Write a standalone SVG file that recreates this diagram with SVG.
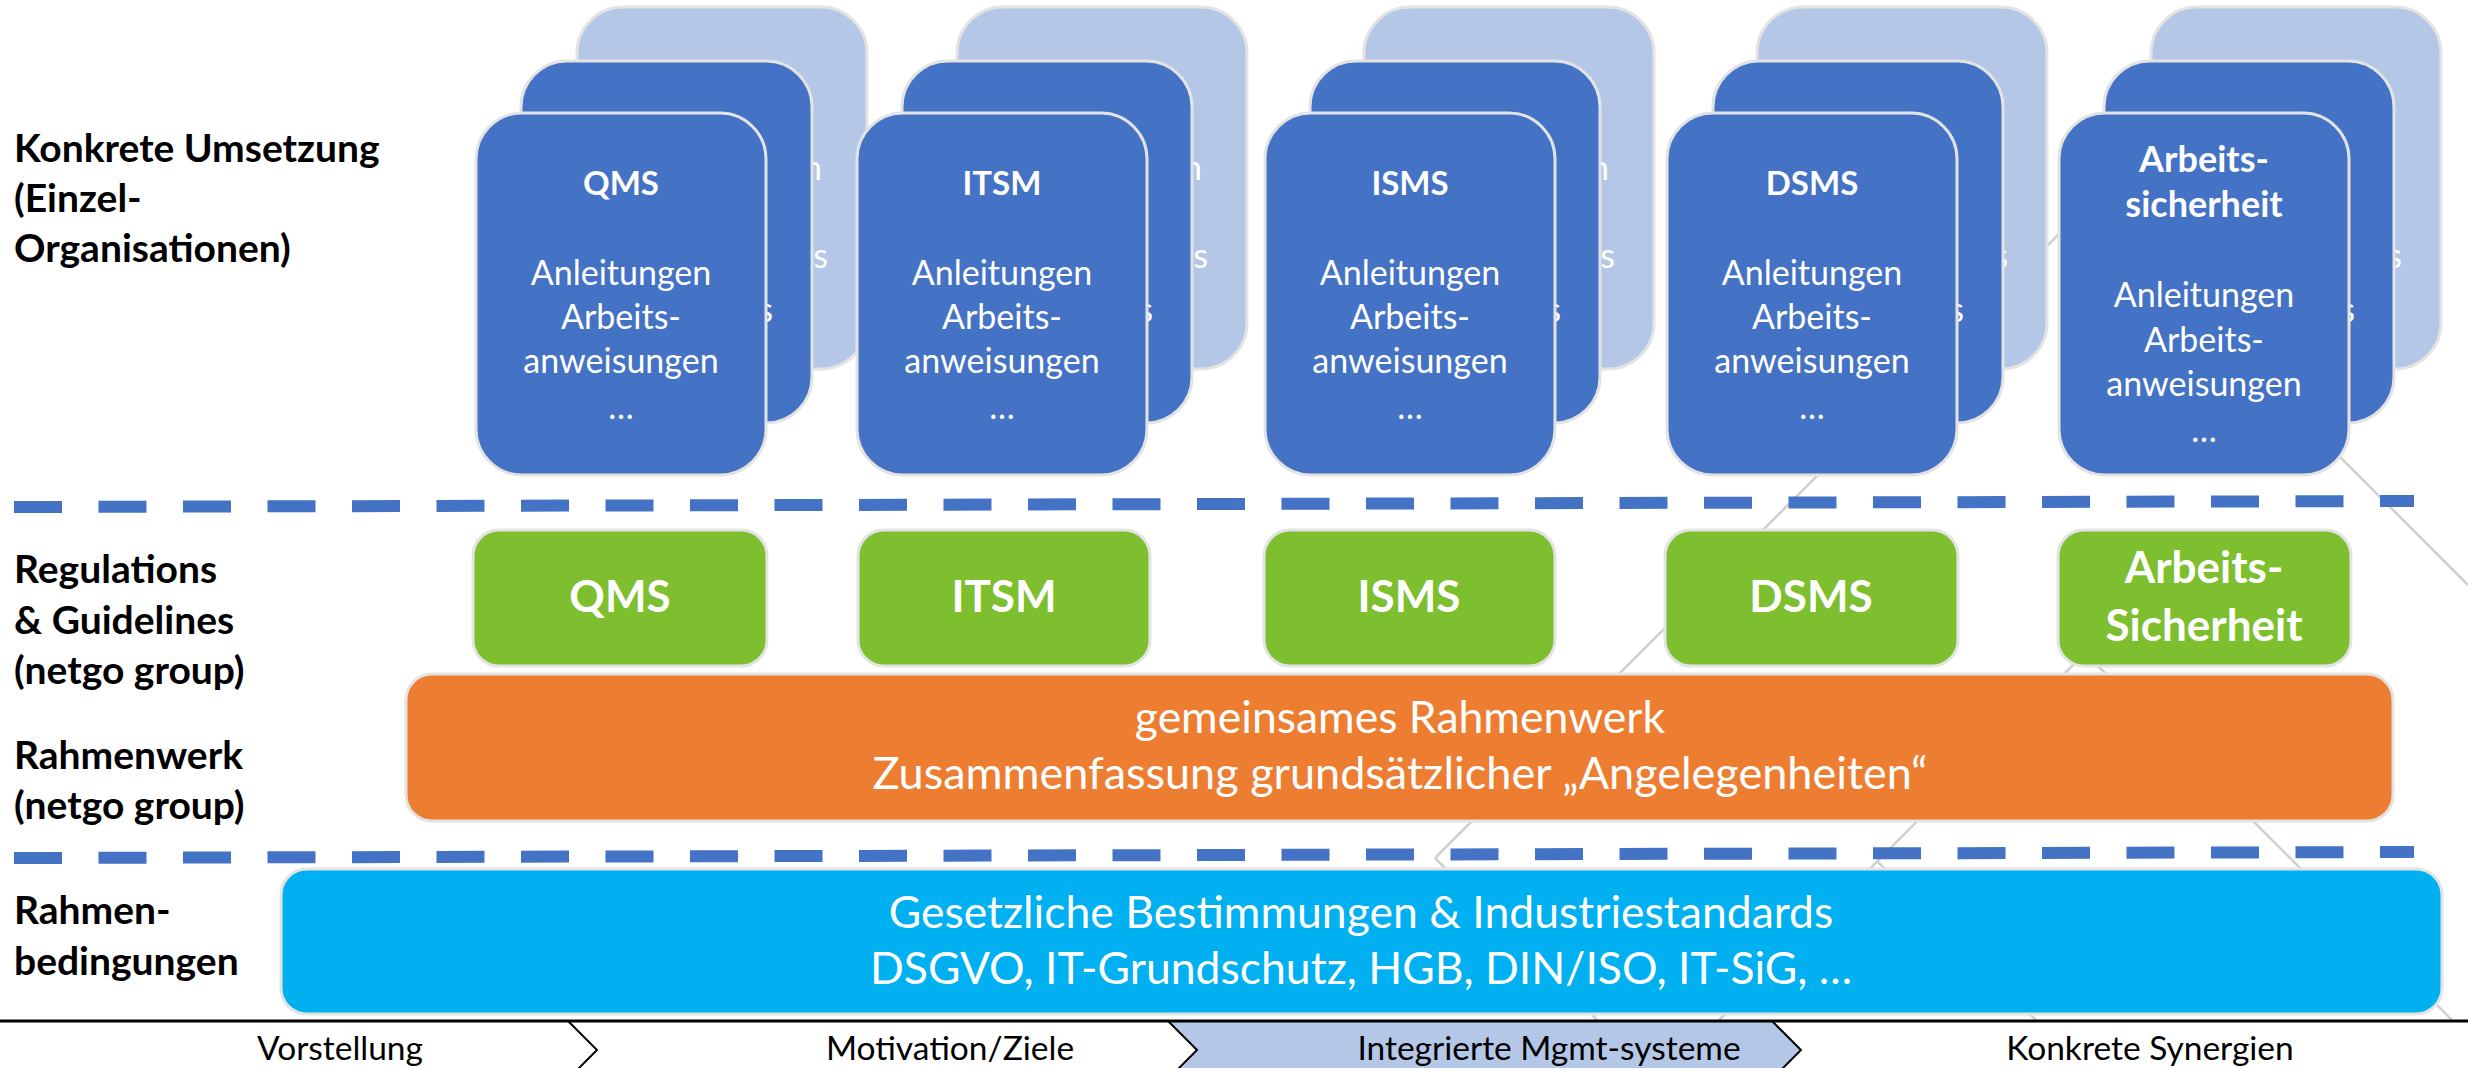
<svg xmlns="http://www.w3.org/2000/svg" width="2468" height="1068" viewBox="0 0 2468 1068">
<style>
  .bg { fill: #ffffff; }
  .deco { stroke: #cfcfcf; stroke-width: 2.5; fill: none; }
  .sep { stroke: #4472C4; stroke-width: 12; stroke-dasharray: 48 36.5; fill: none; }
  .back { fill: #B4C7E7; stroke: #e3e3e3; stroke-width: 3; }
  .card { fill: #4472C4; stroke: #e3e3e3; stroke-width: 3; }
  .green { fill: #7DBF2E; stroke: #e3e3e3; stroke-width: 3; }
  .orange { fill: #ED7D31; stroke: #e3e3e3; stroke-width: 3; }
  .cyan { fill: #00B0F0; stroke: #e3e3e3; stroke-width: 3; }
  text { font-family: Lato, "Liberation Sans", sans-serif; }
  .ct { fill: #ffffff; font-size: 33px; font-weight: bold; text-anchor: middle; }
  .ct2 { fill: #ffffff; font-size: 36px; font-weight: bold; text-anchor: middle; }
  .cb { fill: #ffffff; font-size: 34px; text-anchor: middle; }
  .frag { fill: #ffffff; font-size: 34px; text-anchor: end; }
  .lbl { fill: #000000; font-size: 39px; font-weight: bold; }
  .gt { fill: #ffffff; font-size: 44px; font-weight: bold; text-anchor: middle; }
  .bt { fill: #ffffff; font-size: 44.5px; text-anchor: middle; }
  .nav { fill: #000000; font-size: 33.5px; text-anchor: middle; }
  .navline { stroke: #000000; stroke-width: 2; fill: none; }
</style>
<rect class="bg" x="0" y="0" width="2468" height="1068"/>

<g id="background-lines">
  <line class="deco" x1="2088" y1="205" x2="1435" y2="858"/>
  <line class="deco" x1="1435" y1="858" x2="1597" y2="1020"/>
  <line class="deco" x1="2088" y1="205" x2="2468" y2="585"/>
  <line class="deco" x1="2085" y1="653" x2="1719" y2="1020"/>
  <line class="deco" x1="2085" y1="653" x2="2452" y2="1020"/>
  <line class="deco" x1="1878" y1="862" x2="2036" y2="1020"/>
</g>

<g id="separators">
  <line class="sep" x1="14" y1="507" x2="2414" y2="501"/>
  <line class="sep" x1="14" y1="858" x2="2414" y2="852"/>
</g>

<g id="labels">
  <text class="lbl" x="14" y="162">Konkrete Umsetzung</text>
  <text class="lbl" x="14" y="212">(Einzel-</text>
  <text class="lbl" x="14" y="262">Organisationen)</text>
  <text class="lbl" x="14" y="583">Regulations</text>
  <text class="lbl" x="14" y="634">&amp; Guidelines</text>
  <text class="lbl" x="14" y="684">(netgo group)</text>
  <text class="lbl" x="14" y="769">Rahmenwerk</text>
  <text class="lbl" x="14" y="819">(netgo group)</text>
  <text class="lbl" x="14" y="924">Rahmen-</text>
  <text class="lbl" x="14" y="975">bedingungen</text>
</g>

<g id="card-qms">
  <rect class="back" x="577" y="7" width="290" height="362" rx="46"/>
  <text class="frag" x="822" y="180">n</text>
  <text class="frag" x="828" y="268">s</text>
  <rect class="card" x="521" y="61" width="291" height="362" rx="46"/>
  <text class="frag" x="773" y="322">s</text>
  <rect class="card" x="476" y="113" width="290" height="362" rx="46"/>
  <text class="ct" x="621" y="195">QMS</text>
  <text class="cb" x="621" y="285">Anleitungen</text>
  <text class="cb" x="621" y="329">Arbeits-</text>
  <text class="cb" x="621" y="373">anweisungen</text>
  <text class="cb" x="621" y="419">…</text>
</g>

<g id="card-itsm">
  <rect class="back" x="957" y="7" width="290" height="362" rx="46"/>
  <text class="frag" x="1202" y="180">n</text>
  <text class="frag" x="1208" y="268">s</text>
  <rect class="card" x="902" y="61" width="290" height="362" rx="46"/>
  <text class="frag" x="1153" y="322">s</text>
  <rect class="card" x="857" y="113" width="290" height="362" rx="46"/>
  <text class="ct" x="1002" y="195">ITSM</text>
  <text class="cb" x="1002" y="285">Anleitungen</text>
  <text class="cb" x="1002" y="329">Arbeits-</text>
  <text class="cb" x="1002" y="373">anweisungen</text>
  <text class="cb" x="1002" y="419">…</text>
</g>

<g id="card-isms">
  <rect class="back" x="1364" y="7" width="290" height="362" rx="46"/>
  <text class="frag" x="1609" y="180">n</text>
  <text class="frag" x="1615" y="268">s</text>
  <rect class="card" x="1310" y="61" width="290" height="362" rx="46"/>
  <text class="frag" x="1561" y="322">s</text>
  <rect class="card" x="1265" y="113" width="290" height="362" rx="46"/>
  <text class="ct" x="1410" y="195">ISMS</text>
  <text class="cb" x="1410" y="285">Anleitungen</text>
  <text class="cb" x="1410" y="329">Arbeits-</text>
  <text class="cb" x="1410" y="373">anweisungen</text>
  <text class="cb" x="1410" y="419">…</text>
</g>

<g id="card-dsms">
  <rect class="back" x="1757" y="7" width="290" height="362" rx="46"/>
  <text class="frag" x="2002" y="180">n</text>
  <text class="frag" x="2008" y="268">s</text>
  <rect class="card" x="1713" y="61" width="290" height="362" rx="46"/>
  <text class="frag" x="1964" y="322">s</text>
  <rect class="card" x="1667" y="113" width="290" height="362" rx="46"/>
  <text class="ct" x="1812" y="195">DSMS</text>
  <text class="cb" x="1812" y="285">Anleitungen</text>
  <text class="cb" x="1812" y="329">Arbeits-</text>
  <text class="cb" x="1812" y="373">anweisungen</text>
  <text class="cb" x="1812" y="419">…</text>
</g>

<g id="card-arbeitssicherheit">
  <rect class="back" x="2151" y="7" width="290" height="362" rx="46"/>
  <text class="frag" x="2396" y="180">n</text>
  <text class="frag" x="2402" y="268">s</text>
  <rect class="card" x="2104" y="61" width="290" height="362" rx="46"/>
  <text class="frag" x="2355" y="322">s</text>
  <rect class="card" x="2059" y="113" width="290" height="362" rx="46"/>
  <text class="ct2" x="2204" y="172">Arbeits-</text>
  <text class="ct2" x="2204" y="217">sicherheit</text>
  <text class="cb" x="2204" y="307">Anleitungen</text>
  <text class="cb" x="2204" y="352">Arbeits-</text>
  <text class="cb" x="2204" y="396">anweisungen</text>
  <text class="cb" x="2204" y="442">…</text>
</g>

<g id="reg-qms">
  <rect class="green" x="473" y="530" width="294" height="136" rx="26"/>
  <text class="gt" x="620" y="612">QMS</text>
</g>
<g id="reg-itsm">
  <rect class="green" x="858" y="530" width="292" height="136" rx="26"/>
  <text class="gt" x="1004" y="612">ITSM</text>
</g>
<g id="reg-isms">
  <rect class="green" x="1264" y="530" width="291" height="136" rx="26"/>
  <text class="gt" x="1409" y="612">ISMS</text>
</g>
<g id="reg-dsms">
  <rect class="green" x="1665" y="530" width="293" height="136" rx="26"/>
  <text class="gt" x="1811" y="612">DSMS</text>
</g>
<g id="reg-arbeitssicherheit">
  <rect class="green" x="2058" y="530" width="293" height="136" rx="26"/>
  <text class="gt" x="2204" y="583">Arbeits-</text>
  <text class="gt" x="2204" y="641">Sicherheit</text>
</g>

<g id="rahmenwerk">
  <rect class="orange" x="406" y="674" width="1987" height="147" rx="26"/>
  <text class="bt" x="1400" y="733">gemeinsames Rahmenwerk</text>
  <text class="bt" x="1400" y="789" textLength="1055" lengthAdjust="spacingAndGlyphs">Zusammenfassung grundsätzlicher „Angelegenheiten“</text>
</g>

<g id="rahmenbedingungen">
  <rect class="cyan" x="281" y="869" width="2161" height="145" rx="26"/>
  <text class="bt" x="1361" y="928">Gesetzliche Bestimmungen &amp; Industriestandards</text>
  <text class="bt" x="1361" y="984">DSGVO, IT-Grundschutz, HGB, DIN/ISO, IT-SiG, …</text>
</g>

<g id="navigation">
  <polygon points="1168,1021 1772,1021 1801,1050 1772,1079 1168,1079 1197,1050" fill="#B4C7E7" stroke="#000000" stroke-width="2"/>
  <polyline class="navline" points="568,1021 597,1050 568,1079"/>
  <line x1="0" y1="1021" x2="2468" y2="1021" stroke="#000000" stroke-width="3"/>
  <text class="nav" x="340" y="1060">Vorstellung</text>
  <text class="nav" x="950" y="1060">Motivation/Ziele</text>
  <text class="nav" x="1549" y="1060">Integrierte Mgmt-systeme</text>
  <text class="nav" x="2150" y="1060">Konkrete Synergien</text>
</g>
</svg>
